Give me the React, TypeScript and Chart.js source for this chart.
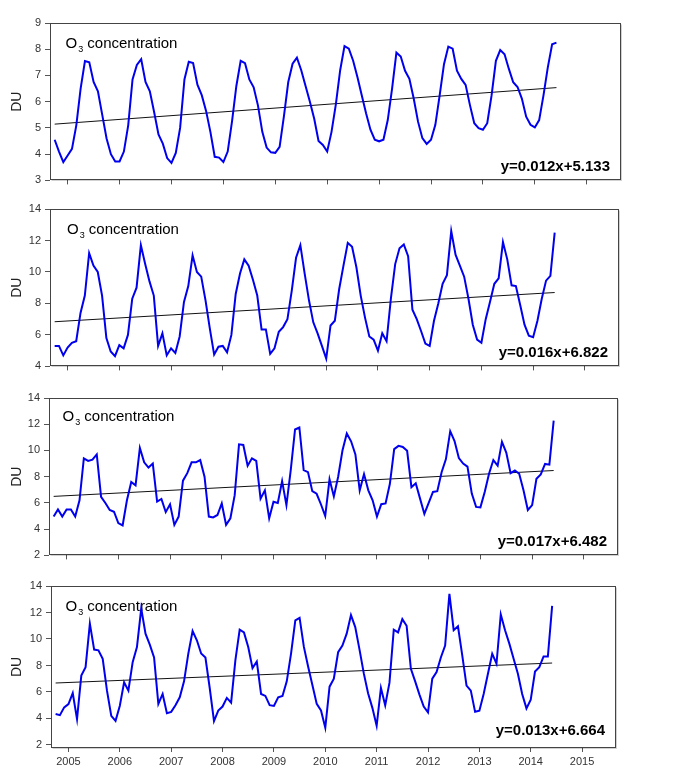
import React, { useEffect, useRef } from 'react';
import { Chart, registerables } from 'chart.js';

Chart.register(...registerables);

const FONT = "'Liberation Sans', Arial, Helvetica, sans-serif";

// Monthly series start: October 2004
const START_YEAR = 2004;
const START_MONTH = 10;

const yearTicks = [2005, 2006, 2007, 2008, 2009, 2010, 2011, 2012, 2013, 2014, 2015];

// Panel 1 (Oct 2004 .. Jun 2014)
const panel1Values = [
  4.55, 4.1, 3.7,
  3.95, 4.2, 5.1, 6.5, 7.55, 7.5, 6.75, 6.4, 5.5, 4.6, 4.0, 3.72,
  3.72, 4.1, 5.1, 6.85, 7.4, 7.62, 6.75, 6.4, 5.6, 4.75, 4.4, 3.85,
  3.67, 4.05, 5.0, 6.85, 7.52, 7.47, 6.65, 6.25, 5.65, 4.85, 3.9, 3.87,
  3.7, 4.1, 5.25, 6.6, 7.56, 7.47, 6.85, 6.55, 5.85, 4.85, 4.25, 4.07,
  4.05, 4.28, 5.45, 6.75, 7.45, 7.68, 7.2, 6.6, 6.0, 5.35, 4.5, 4.35,
  4.1, 4.85, 5.9, 7.2, 8.12, 8.02, 7.56, 6.93, 6.24, 5.55, 4.93, 4.55,
  4.49, 4.55, 5.3, 6.5, 7.87, 7.72, 7.18, 6.87, 6.12, 5.24, 4.61, 4.39,
  4.55, 5.12, 6.24, 7.43, 8.1, 8.02, 7.18, 6.87, 6.64, 5.87, 5.18, 4.99,
  4.93, 5.18, 6.24, 7.56, 7.97, 7.81, 7.25, 6.74, 6.56, 6.12, 5.43, 5.12,
  5.02, 5.3, 6.24, 7.31, 8.19, 8.25,
];

const panel2Values = [
  5.3, 5.3, 4.7,
  5.2, 5.5, 5.6, 7.4, 8.5, 11.2, 10.4, 10.0, 8.5, 5.8, 4.95, 4.65,
  5.35, 5.15, 6.0, 8.3, 9.0, 11.7, 10.5, 9.4, 8.5, 5.3, 6.1, 4.7,
  5.15, 4.85, 5.9, 8.1, 9.1, 11.05, 10.0, 9.7, 8.2, 6.4, 4.75, 5.25,
  5.3, 4.9, 6.0, 8.6, 9.9, 10.8, 10.4, 9.5, 8.5, 6.35, 6.35, 4.8,
  5.15, 6.2, 6.5, 7.0, 8.8, 10.9, 11.7, 9.9, 8.2, 6.8, 6.1, 5.3,
  4.5, 6.6, 6.9, 8.9, 10.4, 11.85, 11.6, 10.3, 8.5, 7.1, 5.9, 5.7,
  5.0, 6.1, 5.6, 8.3, 10.5, 11.5, 11.75, 11.0, 7.6, 7.0, 6.25, 5.45,
  5.3, 6.9, 8.0, 9.25, 9.8, 12.6, 11.1, 10.4, 9.7, 8.3, 6.65, 5.7,
  5.5, 7.0, 8.1, 9.25, 9.6, 11.9, 10.8, 9.15, 9.1, 7.9, 6.65, 5.95,
  5.85, 6.9, 8.3, 9.45, 9.75, 12.5,
];

const panel3Values = [
  4.96, 5.5, 4.96,
  5.5, 5.5, 4.96, 6.2, 9.4, 9.2, 9.3, 9.7, 6.46, 6.0, 5.46, 5.33,
  4.46, 4.28, 6.2, 7.6, 7.34, 10.2, 9.1, 8.7, 9.0, 6.1, 6.3, 5.3,
  5.9, 4.33, 4.96, 7.7, 8.27, 9.1, 9.1, 9.27, 8.0, 4.96, 4.9, 5.08,
  5.96, 4.33, 4.83, 6.59, 10.47, 10.42, 8.84, 9.4, 9.2, 6.33, 6.96, 4.83,
  6.09, 6.0, 7.66, 5.83, 8.5, 11.6, 11.75, 8.5, 8.35, 6.9, 6.7, 5.9,
  5.0, 7.8, 6.5, 8.0, 10.0, 11.3, 10.7, 9.7, 6.96, 8.2, 6.96, 6.2,
  4.96, 5.9, 5.96, 7.46, 10.1, 10.35, 10.27, 9.97, 7.2, 7.5, 6.33, 5.16,
  6.0, 6.84, 6.9, 8.34, 9.34, 11.47, 10.72, 9.42, 9.0, 8.77, 6.71, 5.7,
  5.66, 6.84, 8.22, 9.27, 8.84, 10.65, 9.84, 8.27, 8.47, 8.22, 6.96, 5.46,
  5.83, 7.84, 8.17, 8.97, 8.92, 12.27,
];

const panel4Values = [
  4.33, 4.25, 4.84,
  5.09, 5.92, 3.95, 7.24, 7.87, 11.16, 9.2, 9.14, 8.5, 6.1, 4.2, 3.82,
  4.96, 6.73, 6.1, 8.25, 9.39, 12.3, 10.4, 9.57, 8.6, 5.1, 5.85, 4.4,
  4.5, 5.0, 5.6, 6.8, 8.9, 10.6, 9.9, 8.9, 8.6, 6.3, 3.8, 4.6,
  4.9, 5.55, 5.2, 8.4, 10.7, 10.5, 9.4, 7.8, 8.3, 5.85, 5.7, 5.0,
  4.95, 5.6, 5.7, 6.8, 8.9, 11.4, 11.6, 9.4, 7.9, 6.5, 5.1, 4.6,
  3.3, 6.4, 7.0, 9.0, 9.5, 10.4, 11.8, 10.9, 9.2, 7.4, 5.9, 4.8,
  3.45, 6.3, 5.0, 6.7, 10.7, 10.5, 11.5, 11.0, 7.75, 6.8, 5.8, 4.9,
  4.46, 7.0, 7.5, 8.6, 9.5, 13.4, 10.66, 10.96, 8.76, 6.48, 6.1, 4.5,
  4.58, 5.85, 7.37, 8.89, 8.13, 11.85, 10.66, 9.65, 8.5, 7.37, 5.85, 4.76,
  5.42, 7.54, 7.87, 8.68, 8.68, 12.5,
];

const panel1YTicks = [3, 4, 5, 6, 7, 8, 9];
const panel2YTicks = [4, 6, 8, 10, 12, 14];
const panel3YTicks = [2, 4, 6, 8, 10, 12, 14];
const panel4YTicks = [2, 4, 6, 8, 10, 12, 14];

const trendSlopes = [0.012, 0.016, 0.017, 0.013];
const trendIntercepts = [5.133, 6.822, 6.482, 6.664];

const seriesLabel = 'O3 concentration';
const yTitle = 'DU';

// layout (pixels) per panel
const layouts = [
  { top: 23, bottom: 183, left: 50, right: 621, yMin: 3, yMax: 9, lx: 15.5, ly: 24.5, ex: 11, ey: 9 },
  { top: 209, bottom: 369, left: 50, right: 619, yMin: 4, yMax: 14, lx: 17, ly: 25, ex: 11, ey: 9 },
  { top: 398, bottom: 558, left: 49, right: 618, yMin: 2, yMax: 14, lx: 13.5, ly: 23, ex: 11, ey: 9 },
  { top: 586, bottom: 748, left: 51, right: 616, yMin: 1.77, yMax: 14, lx: 14.5, ly: 25, ex: 11, ey: 13 },
];

const panelValues = [panel1Values, panel2Values, panel3Values, panel4Values];
const panelYTicks = [panel1YTicks, panel2YTicks, panel3YTicks, panel4YTicks];

const X_MIN = 2004.66;
const X_MAX = 2015.66;
const PAD_TOP = 12;

function monthX(i: number) {
  return START_YEAR + (START_MONTH - 1 + i) / 12;
}

function Panel({ idx }: { idx: number }) {
  const ref = useRef<HTMLCanvasElement | null>(null);
  const L = layouts[idx];
  const isLast = idx === layouts.length - 1;
  const axisH = isLast ? 26 : 8;
  const h = L.bottom - L.top + PAD_TOP + axisH;

  useEffect(() => {
    if (!ref.current) return;
    const values = panelValues[idx];
    const slope = trendSlopes[idx];
    const intercept = trendIntercepts[idx];
    const n = values.length;
    const eqText = `y=${slope}x+${intercept}`;

    const decor = {
      id: 'decor' + idx,
      beforeDatasetsDraw(chart: any) {
        const { ctx, chartArea: a } = chart;
        ctx.save();
        ctx.fillStyle = '#000';
        ctx.textBaseline = 'alphabetic';
        ctx.textAlign = 'left';
        const x0 = a.left + L.lx;
        const y0 = a.top + L.ly;
        const parts = seriesLabel.split('3');
        ctx.font = `15px ${FONT}`;
        ctx.fillText(parts[0], x0, y0);
        const w0 = ctx.measureText(parts[0]).width;
        ctx.font = `9px ${FONT}`;
        ctx.fillText('3', x0 + w0 + 1, y0 + 4);
        const w3 = ctx.measureText('3').width;
        ctx.font = `15px ${FONT}`;
        ctx.fillText(parts[1], x0 + w0 + 1 + w3, y0);
        ctx.font = `bold 15px ${FONT}`;
        ctx.textAlign = 'right';
        ctx.fillText(eqText, a.right - L.ex, a.bottom - L.ey);
        ctx.restore();
      },
      afterDatasetsDraw(chart: any) {
        const { ctx, chartArea: a } = chart;
        ctx.save();
        ctx.strokeStyle = '#444';
        ctx.lineWidth = 1;
        const l = Math.round(a.left) + 0.5;
        const t = Math.round(a.top) + 0.5;
        const r = Math.round(a.right) - 0.5;
        const b = Math.round(a.bottom) - 0.5;
        ctx.strokeRect(l, t, r - l, b - t);
        ctx.strokeStyle = 'rgba(0,0,0,0.18)';
        ctx.beginPath();
        ctx.moveTo(r + 1, t + 1);
        ctx.lineTo(r + 1, b + 1);
        ctx.lineTo(l + 1, b + 1);
        ctx.stroke();
        ctx.restore();
      },
    };

    const chart = new Chart(ref.current, {
      type: 'line',
      data: {
        datasets: [
          {
            data: values.map((v, i) => ({ x: monthX(i), y: v })),
            borderColor: 'rgb(0,0,238)',
            borderWidth: 2,
            pointRadius: 0,
            tension: 0,
            fill: false,
          },
          {
            data: [
              { x: monthX(0), y: intercept + slope * 1 },
              { x: monthX(n - 1), y: intercept + slope * n },
            ],
            borderColor: '#111',
            borderWidth: 1,
            pointRadius: 0,
            tension: 0,
            fill: false,
          },
        ],
      },
      options: {
        animation: false,
        responsive: false,
        events: [],
        layout: { padding: { top: PAD_TOP, left: 0, right: 680 - L.right, bottom: 0 } },
        plugins: { legend: { display: false }, tooltip: { enabled: false } },
        scales: {
          x: {
            type: 'linear',
            min: X_MIN,
            max: X_MAX,
            afterBuildTicks: (s: any) => {
              s.ticks = yearTicks.map((v) => ({ value: v }));
            },
            afterFit: (s: any) => {
              s.height = axisH;
            },
            grid: { drawOnChartArea: false, drawTicks: true, tickLength: 4, color: '#555' },
            border: { display: false },
            ticks: {
              display: isLast,
              autoSkip: false,
              maxRotation: 0,
              padding: 3,
              color: '#333',
              font: { size: 11, family: FONT },
              callback: (v: any) => String(v),
            },
          },
          y: {
            type: 'linear',
            min: L.yMin,
            max: L.yMax,
            afterBuildTicks: (s: any) => {
              s.ticks = panelYTicks[idx].map((v) => ({ value: v }));
            },
            afterFit: (s: any) => {
              s.width = L.left;
            },
            grid: { drawOnChartArea: false, drawTicks: true, tickLength: 5, color: '#555' },
            border: { display: false },
            ticks: {
              autoSkip: false,
              padding: 4,
              color: '#333',
              font: { size: 11, family: FONT },
              callback: (v: any) => String(v),
            },
            title: {
              display: true,
              text: yTitle,
              color: '#222',
              font: { size: 14, family: FONT },
              padding: { top: 9, bottom: 0 },
            },
          },
        },
      },
      plugins: [decor],
    } as any);
    return () => chart.destroy();
  }, [idx]);

  return (
    <canvas
      ref={ref}
      width={680}
      height={h}
      style={{ position: 'absolute', left: 0, top: L.top - PAD_TOP, width: 680, height: h }}
    />
  );
}

export default function App() {
  return (
    <div style={{ position: 'absolute', left: 0, top: 0, width: 680, height: 774, background: '#fff', overflow: 'hidden' }}>
      {layouts.map((_, i) => (
        <Panel key={i} idx={i} />
      ))}
    </div>
  );
}
